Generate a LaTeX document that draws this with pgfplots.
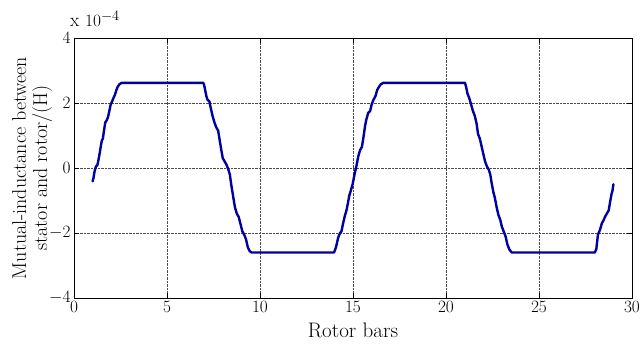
\documentclass[border=0pt]{standalone}
\usepackage{pgfplots}
\pgfplotsset{compat=1.18}
\definecolor{mblue}{RGB}{0,0,160}
\begin{document}
\begin{tikzpicture}
\begin{axis}[
  scale only axis,
  width=558pt, height=260pt,
  xmin=0, xmax=30, ymin=-4, ymax=4,
  xtick={0,5,...,30}, ytick={-4,-2,0,2,4},
  grid=major,
  major grid style={densely dotted, black!70, line width=0.5pt},
  axis line style={black, line width=0.6pt},
  tick style={black, line width=0.5pt},
  major tick length=5pt,
  tick align=inside,
  tick label style={font=\fontsize{17}{17}\selectfont},
  xlabel={Rotor bars},
  ylabel={Mutual-inductance between\\stator and rotor/(H)},
  ylabel style={align=center, yshift=-10pt, font=\fontsize{20}{21}\selectfont},
  xlabel style={yshift=-3pt, font=\fontsize{21}{22}\selectfont},
  clip=false,
]
\addplot[mblue, line width=2.4pt, line join=round, line cap=round] coordinates {
(1.0,-0.41) (1.05,-0.3) (1.1,-0.12) (1.18,0.05) (1.25,0.08) (1.3,0.2) (1.38,0.45) (1.45,0.7) (1.5,0.85) (1.55,0.9) (1.6,1.1) (1.68,1.4) (1.75,1.46) (1.82,1.55) (1.9,1.75) (1.97,1.95) (2.05,2.05) (2.12,2.15) (2.2,2.25) (2.28,2.4) (2.35,2.5) (2.45,2.58) (2.56,2.62)
(6.95,2.62) (7.0,2.55) (7.05,2.4) (7.12,2.2) (7.18,2.1) (7.28,2.05) (7.35,1.85) (7.45,1.6) (7.55,1.4) (7.65,1.25) (7.75,1.15) (7.82,0.9) (7.92,0.55) (8.0,0.3) (8.1,0.2) (8.2,0.1) (8.3,-0.05) (8.38,-0.2) (8.45,-0.5) (8.55,-0.85) (8.65,-1.2) (8.75,-1.4) (8.85,-1.5) (8.92,-1.65) (9.05,-1.95) (9.15,-2.05) (9.25,-2.2) (9.35,-2.45) (9.45,-2.56) (9.55,-2.6)
(13.98,-2.6) (14.08,-2.45) (14.2,-2.15) (14.3,-2.0) (14.38,-1.95) (14.45,-1.75) (14.55,-1.5) (14.65,-1.3) (14.72,-1.1) (14.8,-0.85) (14.88,-0.7) (14.98,-0.5) (15.08,-0.2) (15.18,0.05) (15.28,0.35) (15.38,0.55) (15.48,0.65) (15.55,0.9) (15.65,1.3) (15.72,1.5) (15.82,1.7) (15.92,1.75) (16.0,1.95) (16.1,2.1) (16.2,2.2) (16.3,2.4) (16.4,2.5) (16.5,2.58) (16.63,2.62)
(21.02,2.62) (21.08,2.5) (21.15,2.3) (21.25,2.15) (21.35,1.95) (21.45,1.75) (21.55,1.6) (21.65,1.35) (21.72,1.05) (21.82,0.9) (21.92,0.65) (22.0,0.45) (22.1,0.2) (22.2,0.05) (22.3,-0.05) (22.38,-0.2) (22.45,-0.45) (22.55,-0.75) (22.62,-0.9) (22.72,-1.2) (22.82,-1.45) (22.92,-1.6) (23.0,-1.8) (23.1,-1.95) (23.2,-2.1) (23.3,-2.35) (23.4,-2.5) (23.53,-2.6)
(28.0,-2.6) (28.08,-2.5) (28.17,-2.05) (28.28,-1.9) (28.38,-1.7) (28.46,-1.62) (28.55,-1.5) (28.65,-1.4) (28.75,-1.3) (28.82,-1.05) (28.9,-0.8) (28.95,-0.7) (29.0,-0.5)
};
\node[anchor=base west, font=\fontsize{19}{19}\selectfont, inner sep=0pt] at ([xshift=-4pt,yshift=11pt]current axis.north west) {x $10^{-4}$};
\end{axis}
\pgfresetboundingbox
\path[use as bounding box] ([xshift=-74pt,yshift=-52pt]current axis.south west) rectangle ([xshift=11pt,yshift=38pt]current axis.north east);
\end{tikzpicture}
\end{document}
